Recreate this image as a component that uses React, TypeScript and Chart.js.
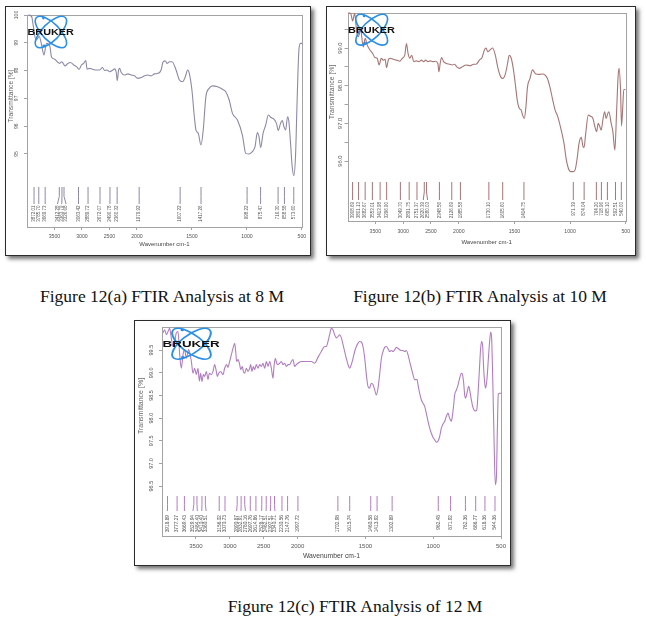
import React, { useEffect, useRef } from 'react';
import { Chart, registerables, LinearScale } from 'chart.js';

// ---------------- data ----------------
// Figure 12(a) – 8 M
const wnA = [3976, 3915, 3885, 3837, 3777, 3734, 3692, 3644, 3583, 3553, 3493, 3451, 3402, 3372, 3342, 3312, 3251, 3209, 3149, 3100, 3052, 3010, 2968, 2931, 2907, 2859, 2811, 2738, 2678, 2629, 2587, 2545, 2497, 2436, 2406, 2376, 2358, 2334, 2315, 2285, 2225, 2164, 2104, 2044, 1992, 1961, 1931, 1901, 1871, 1841, 1810, 1780, 1765, 1744, 1726, 1705, 1681, 1644, 1614, 1584, 1560, 1539, 1524, 1500, 1478, 1463, 1442, 1418, 1397, 1373, 1343, 1312, 1267, 1222, 1192, 1161, 1131, 1086, 1041, 1010, 980, 950, 926, 905, 890, 875, 853, 829, 805, 784, 754, 730, 715, 694, 678, 663, 648, 630, 618, 603, 588, 573, 558, 543, 527, 512, 497];
const tA = [100.0, 99.94, 99.6, 99.1, 99.22, 98.92, 98.56, 98.98, 98.86, 98.48, 98.41, 98.32, 98.26, 98.32, 98.26, 98.17, 98.26, 98.29, 98.2, 98.14, 98.05, 98.2, 98.26, 98.36, 98.05, 98.08, 98.05, 98.02, 98.02, 98.11, 98.0, 98.02, 97.96, 98.02, 98.06, 97.93, 97.64, 98.02, 98.08, 97.93, 97.84, 97.88, 97.84, 97.81, 97.72, 97.75, 97.81, 97.84, 97.81, 97.88, 97.9, 98.02, 98.29, 98.35, 98.26, 98.32, 98.32, 98.02, 97.66, 97.6, 97.78, 98.02, 97.9, 97.3, 96.34, 95.86, 95.74, 95.32, 95.86, 97.06, 97.36, 97.45, 97.42, 97.33, 97.24, 96.94, 96.46, 96.22, 95.68, 95.02, 95.0, 95.08, 95.26, 95.77, 95.62, 95.23, 95.74, 96.04, 96.4, 96.32, 96.25, 96.08, 95.84, 96.1, 96.2, 95.98, 95.86, 96.34, 96.16, 95.38, 94.54, 94.22, 94.9, 96.94, 98.74, 98.98, 98.98];
const peaksA = [3872.01, 3785.70, 3669.73, 3412.28, 3363.79, 3326.68, 3063.42, 2889.72, 2672.07, 2490.78, 2360.32, 1979.92, 1607.22, 1417.26, 998.22, 875.47, 716.30, 658.58, 573.60];
const yTicksA = [95, 96, 97, 98, 99, 100];

// Figure 12(b) – 10 M
const wnB = [3986, 3943, 3907, 3871, 3835, 3806, 3764, 3717, 3682, 3646, 3597, 3549, 3508, 3467, 3431, 3395, 3360, 3324, 3299, 3263, 3227, 3180, 3120, 3060, 3013, 2971, 2941, 2912, 2882, 2846, 2810, 2762, 2715, 2673, 2631, 2596, 2555, 2512, 2465, 2417, 2376, 2358, 2333, 2309, 2274, 2225, 2166, 2118, 2077, 2036, 1994, 1970, 1934, 1898, 1868, 1845, 1815, 1791, 1770, 1755, 1740, 1719, 1696, 1672, 1651, 1630, 1606, 1582, 1562, 1547, 1529, 1511, 1493, 1475, 1457, 1439, 1427, 1412, 1397, 1383, 1361, 1338, 1323, 1308, 1278, 1249, 1224, 1204, 1182, 1159, 1135, 1111, 1084, 1055, 1034, 1016, 995, 974, 956, 935, 920, 900, 884, 875, 860, 837, 816, 795, 777, 762, 748, 735, 721, 706, 690, 676, 661, 652, 631, 616, 598, 583, 569, 560, 547, 538, 527, 518, 503];
const tB = [99.94, 99.92, 99.72, 99.92, 99.43, 99.3, 99.48, 99.03, 99.26, 99.08, 98.95, 98.86, 98.75, 98.73, 98.55, 98.73, 98.68, 98.7, 98.48, 98.7, 98.73, 98.7, 98.68, 98.65, 98.73, 98.81, 99.12, 98.86, 98.73, 98.81, 98.64, 98.66, 98.64, 98.68, 98.64, 98.68, 98.64, 98.66, 98.64, 98.65, 98.59, 98.37, 98.61, 98.75, 98.64, 98.59, 98.57, 98.55, 98.57, 98.5, 98.46, 98.5, 98.55, 98.53, 98.57, 98.57, 98.68, 98.75, 98.95, 99.0, 98.9, 98.95, 99.0, 98.81, 98.5, 98.28, 98.19, 98.31, 98.59, 98.81, 98.73, 98.46, 98.06, 97.62, 97.4, 97.35, 97.22, 97.13, 97.44, 97.97, 98.19, 98.42, 98.37, 98.31, 98.3, 98.31, 98.28, 98.19, 97.97, 97.66, 97.35, 97.18, 96.87, 96.47, 96.03, 95.81, 95.72, 95.72, 95.76, 96.11, 96.47, 96.63, 96.38, 96.36, 96.73, 97.22, 97.19, 97.13, 96.91, 96.78, 97.0, 96.93, 96.82, 97.09, 97.31, 97.13, 97.27, 97.31, 97.0, 96.78, 96.29, 97.27, 98.24, 98.46, 97.89, 96.93, 97.44, 97.9, 97.9];
const peaksB = [3908.69, 3801.13, 3682.67, 3553.01, 3413.98, 3296.90, 3049.70, 2891.75, 2751.37, 2620.39, 2580.03, 2348.56, 2126.69, 1985.58, 1730.10, 1605.60, 1414.75, 971.39, 874.04, 764.20, 718.96, 665.10, 592.51, 540.00];
const yTicksB = [96, 96.5, 97, 97.5, 98, 98.5, 99, 99.5];

// Figure 12(c) – 12 M
const wnC = [3985, 3961, 3936, 3911, 3887, 3862, 3838, 3813, 3789, 3764, 3739, 3715, 3690, 3666, 3641, 3607, 3567, 3543, 3518, 3494, 3469, 3449, 3430, 3410, 3390, 3371, 3346, 3321, 3302, 3272, 3248, 3223, 3199, 3184, 3164, 3135, 3100, 3076, 3046, 3027, 3002, 2977, 2953, 2928, 2913, 2899, 2879, 2854, 2840, 2815, 2800, 2781, 2756, 2731, 2707, 2692, 2673, 2653, 2633, 2609, 2584, 2559, 2535, 2510, 2486, 2461, 2436, 2412, 2387, 2363, 2348, 2328, 2309, 2289, 2264, 2240, 2215, 2191, 2166, 2141, 2117, 2092, 2068, 2043, 2018, 1997, 1972, 1948, 1923, 1899, 1874, 1850, 1825, 1800, 1788, 1776, 1764, 1751, 1739, 1727, 1714, 1702, 1690, 1677, 1665, 1653, 1641, 1628, 1616, 1604, 1591, 1579, 1567, 1555, 1542, 1530, 1518, 1505, 1493, 1481, 1469, 1456, 1444, 1432, 1419, 1407, 1395, 1382, 1370, 1358, 1346, 1333, 1321, 1309, 1296, 1284, 1272, 1260, 1247, 1235, 1223, 1210, 1198, 1186, 1174, 1161, 1149, 1137, 1129, 1119, 1112, 1100, 1087, 1075, 1063, 1051, 1038, 1026, 1014, 1001, 989, 977, 965, 952, 940, 928, 915, 903, 891, 879, 866, 859, 849, 842, 829, 817, 805, 792, 785, 775, 768, 761, 751, 738, 729, 719, 709, 699, 689, 679, 670, 660, 650, 643, 635, 628, 620, 613, 603, 593, 584, 576, 569, 561, 552, 542, 534, 527, 520, 510, 497];
const tC = [99.88, 99.95, 99.84, 99.91, 99.98, 99.76, 99.58, 99.69, 99.88, 99.91, 99.4, 99.1, 99.4, 99.51, 99.32, 99.51, 99.25, 98.99, 99.1, 98.96, 99.1, 98.82, 98.99, 98.81, 98.96, 98.92, 99.03, 98.85, 98.99, 98.96, 99.03, 99.18, 99.03, 98.92, 98.99, 99.03, 98.96, 99.1, 99.18, 99.12, 99.25, 99.4, 99.54, 99.65, 99.47, 99.25, 99.29, 99.18, 99.07, 99.14, 99.03, 98.99, 99.1, 99.03, 99.1, 99.18, 99.03, 99.14, 99.07, 99.18, 99.1, 99.18, 99.14, 99.21, 99.1, 99.25, 99.14, 99.25, 99.1, 98.88, 99.14, 99.32, 99.21, 99.18, 99.21, 99.25, 99.18, 99.21, 99.14, 99.18, 99.18, 99.25, 99.29, 99.14, 99.18, 99.21, 99.25, 99.25, 99.25, 99.25, 99.21, 99.34, 99.47, 99.58, 99.58, 99.69, 99.84, 99.98, 99.95, 99.84, 99.77, 99.8, 99.84, 99.77, 99.62, 99.47, 99.32, 99.18, 99.1, 99.18, 99.32, 99.47, 99.58, 99.65, 99.69, 99.68, 99.58, 99.32, 98.96, 98.7, 98.66, 98.77, 98.74, 98.63, 98.51, 98.66, 98.96, 99.32, 99.47, 99.56, 99.58, 99.53, 99.47, 99.49, 99.47, 99.51, 99.56, 99.54, 99.51, 99.49, 99.49, 99.47, 99.49, 99.4, 99.25, 99.1, 98.96, 98.85, 98.85, 98.85, 98.74, 98.55, 98.4, 98.33, 98.26, 98.11, 97.93, 97.78, 97.67, 97.57, 97.52, 97.47, 97.49, 97.6, 97.78, 97.87, 97.93, 98.04, 98.11, 98.0, 97.93, 98.04, 98.29, 98.51, 98.62, 98.73, 98.88, 98.99, 98.97, 98.77, 98.51, 98.44, 98.55, 98.7, 98.59, 98.41, 98.26, 98.18, 98.16, 98.18, 98.51, 99.03, 99.54, 99.69, 99.58, 99.1, 98.77, 98.66, 98.88, 99.32, 99.69, 99.9, 99.76, 98.88, 97.63, 96.53, 96.68, 97.71, 98.53, 98.55, 98.55];
const peaksC = [3918.89, 3777.27, 3669.43, 3529.94, 3484.40, 3410.40, 3360.51, 3156.02, 3070.73, 2890.87, 2832.91, 2780.16, 2697.76, 2614.86, 2528.17, 2462.51, 2397.51, 2340.71, 2230.56, 2147.76, 1997.72, 1702.98, 1615.74, 1460.58, 1413.92, 1302.89, 962.48, 871.92, 762.36, 686.77, 618.36, 544.36];
const yTicksC = [96.5, 97, 97.5, 98, 98.5, 99, 99.5];

const xTickValues = [3500, 3000, 2500, 2000, 1500, 1000, 500];
const captionA = 'Figure 12(a) FTIR Analysis at 8 M';
const captionB = 'Figure 12(b) FTIR Analysis at 10 M';
const captionC = 'Figure 12(c) FTIR Analysis of 12 M';

// ---------------- scale with OPUS-style half scale above 2000 cm-1 ----------------
const BREAK = 2000;
const compress = (v: number) => (v > BREAK ? BREAK + (v - BREAK) / 2 : v);
const expand = (u: number) => (u > BREAK ? BREAK + (u - BREAK) * 2 : u);

class FtirScale extends LinearScale {
  static id = 'ftir';
  static defaults = LinearScale.defaults;
  configure() {
    super.configure();
    const a = compress((this as any).min);
    const b = compress((this as any).max);
    (this as any)._startValue = a;
    (this as any)._endValue = b;
    (this as any)._valueRange = b - a;
  }
  getPixelForValue(value: any) {
    if (value === null || value === undefined || Number.isNaN(value)) return NaN;
    const s = this as any;
    return s.getPixelForDecimal((compress(value) - s._startValue) / s._valueRange);
  }
  getValueForPixel(pixel: number) {
    const s = this as any;
    return expand(s._startValue + s.getDecimalForPixel(pixel) * s._valueRange);
  }
}

Chart.register(...registerables, FtirScale as any);

const SANS = '"Liberation Sans", Arial, sans-serif';
const FRAME = '#a3a3a3';

const drawLogo = (ctx: CanvasRenderingContext2D, a: any) => {
  const sx = a.width / 276;
  const sy = a.height / 212;
  ctx.save();
  ctx.translate(a.left, a.top);
  ctx.scale(sx, sy);
  const cx = 24, cy = 17;
  ctx.strokeStyle = '#2a8fe6';
  ctx.lineWidth = 1.6;
  [Math.PI / 4, -Math.PI / 4].forEach((ang) => {
    ctx.beginPath();
    ctx.ellipse(cx, cy, 20.5, 8.6, ang, 0, Math.PI * 2);
    ctx.stroke();
  });
  ctx.fillStyle = '#2a8fe6';
  [[-7.5, -14], [-7, 13.8]].forEach(([dx, dy]) => {
    ctx.beginPath();
    ctx.arc(cx + dx, cy + dy, 1.4, 0, Math.PI * 2);
    ctx.fill();
  });
  ctx.font = `bold 9.5px ${SANS}`;
  const m = ctx.measureText('BRUKER').width;
  ctx.translate(0.5, 17.3);
  ctx.scale(46.5 / m, 1);
  ctx.fillStyle = '#111';
  ctx.textBaseline = 'middle';
  ctx.textAlign = 'left';
  ctx.fillText('BRUKER', 0, 0);
  ctx.restore();
};

const panels = [
  {
    key: 'a', wn: wnA, t: tA, peaks: peaksA, yTicks: yTicksA, yMin: 92.37, yMax: 100,
    yFmt: (v: number) => String(v),
    color: '#8a8aa8',
    box: { left: 5, top: 6, w: 306, h: 250 },
    pad: { top: 8, right: 7 }, yWidth: 21, xHeight: 28,
    xTickFont: 5.2, xTickPad: 3.8, yTickFont: 5, yTickPad: 2.8,
    xTitleFont: 6, xTitlePad: 7.4,
    yTitle: { dx: -16, dy: 81, size: 6.6 },
    peak: { lineTop: 40, lineBottom: 23, labelTop: 21.5, font: 4.5, gap: 4.3 },
  },
  {
    key: 'b', wn: wnB, t: tB, peaks: peaksB, yTicks: yTicksB, yMin: 94.41, yMax: 99.93,
    yFmt: (v: number) => (Number.isInteger(v) ? v.toFixed(1) : ''),
    color: '#a87474',
    box: { left: 326, top: 6, w: 310, h: 250 },
    pad: { top: 6, right: 8 }, yWidth: 20.5, xHeight: 34,
    xTickFont: 5.2, xTickPad: 4.9, yTickFont: 5.8, yTickPad: -1.1,
    xTitleFont: 6, xTitlePad: 9.4,
    yTitle: { dx: -15.8, dy: 79, size: 6.8 },
    peak: { lineTop: 39, lineBottom: 21, labelTop: 19, font: 4.5, gap: 4.3 },
  },
  {
    key: 'c', wn: wnC, t: tC, peaks: peaksC, yTicks: yTicksC, yMin: 95.4, yMax: 100.01,
    yFmt: (v: number) => v.toFixed(1),
    color: '#b27cc2',
    box: { left: 134, top: 320, w: 377, h: 246 },
    pad: { top: 6, right: 9 }, yWidth: 27, xHeight: 29,
    xTickFont: 6, xTickPad: 3.4, yTickFont: 5.5, yTickPad: 2.3,
    xTitleFont: 6.8, xTitlePad: 4.6,
    yTitle: { dx: -20.7, dy: 79, size: 7 },
    peak: { lineTop: 40, lineBottom: 25, labelTop: 21, font: 4.8, gap: 4.4 },
  },
];

const buildConfig = (cfg: any) => {
  const framePlugin = {
    id: 'frame',
    beforeDatasetsDraw(chart: any) {
      const { ctx, chartArea: a } = chart;
      ctx.save();
      ctx.strokeStyle = FRAME;
      ctx.lineWidth = 1;
      ctx.strokeRect(Math.round(a.left) + 0.5, Math.round(a.top) + 0.5, Math.round(a.width), Math.round(a.height));
      ctx.restore();
    },
  };
  const extrasPlugin = {
    id: 'extras',
    afterDatasetsDraw(chart: any) {
      const { ctx, chartArea: a } = chart;
      const xs = chart.scales.x;
      const pk = cfg.peak;
      // peak markers
      const items = cfg.peaks.map((p: number) => ({ p, px: xs.getPixelForValue(p) })).sort((u: any, v: any) => u.px - v.px);
      const pos = items.map((i: any) => i.px);
      for (let it = 0; it < 300; it++) {
        let moved = false;
        for (let i = 0; i < pos.length - 1; i++) {
          const d = pos[i + 1] - pos[i];
          if (d < pk.gap - 0.01) {
            const m = (pk.gap - d) / 2;
            pos[i] -= m;
            pos[i + 1] += m;
            moved = true;
          }
        }
        if (!moved) break;
      }
      const top = a.bottom - pk.lineTop;
      const bottom = a.bottom - pk.lineBottom;
      const bend = top + (bottom - top) * 0.55;
      ctx.save();
      ctx.strokeStyle = cfg.color;
      ctx.lineWidth = 1;
      items.forEach((it: any, i: number) => {
        ctx.beginPath();
        ctx.moveTo(it.px, top);
        ctx.lineTo(it.px, bend);
        ctx.lineTo(pos[i], bottom);
        ctx.stroke();
      });
      ctx.fillStyle = '#555';
      ctx.font = `${pk.font}px ${SANS}`;
      ctx.textAlign = 'right';
      ctx.textBaseline = 'middle';
      items.forEach((it: any, i: number) => {
        ctx.save();
        ctx.translate(pos[i], a.bottom - pk.labelTop);
        ctx.rotate(-Math.PI / 2);
        ctx.fillText(it.p.toFixed(2), 0, 0);
        ctx.restore();
      });
      // y title
      ctx.fillStyle = '#666';
      ctx.font = `${cfg.yTitle.size}px ${SANS}`;
      ctx.textAlign = 'center';
      ctx.save();
      ctx.translate(a.left + cfg.yTitle.dx, a.top + cfg.yTitle.dy);
      ctx.rotate(-Math.PI / 2);
      ctx.fillText('Transmittance [%]', 0, 0);
      ctx.restore();
      ctx.restore();
      drawLogo(ctx, a);
    },
  };
  return {
    type: 'line',
    data: {
      datasets: [
        {
          data: cfg.wn.map((w: number, i: number) => ({ x: w, y: cfg.t[i] })),
          borderColor: cfg.color,
          borderWidth: 1.1,
          pointRadius: 0,
          fill: false,
          cubicInterpolationMode: 'monotone',
          clip: 3,
        },
      ],
    },
    options: {
      animation: false,
      responsive: false,
      maintainAspectRatio: false,
      devicePixelRatio: 1,
      events: [],
      layout: { padding: { top: cfg.pad.top, right: cfg.pad.right, left: 0, bottom: 0 } },
      plugins: { legend: { display: false }, tooltip: { enabled: false }, title: { display: false } },
      scales: {
        x: {
          type: 'ftir',
          min: 500,
          max: 4000,
          reverse: true,
          afterBuildTicks: (s: any) => {
            s.ticks = xTickValues.map((v) => ({ value: v }));
          },
          afterFit: (s: any) => {
            s.height = cfg.xHeight;
          },
          ticks: {
            autoSkip: false,
            maxRotation: 0,
            minRotation: 0,
            padding: cfg.xTickPad,
            color: '#555',
            font: { family: SANS, size: cfg.xTickFont },
            callback: (v: any) => String(v),
          },
          grid: { display: true, drawOnChartArea: false, drawTicks: true, tickLength: 3, color: FRAME, lineWidth: 1 },
          border: { display: false },
          title: {
            display: true,
            text: 'Wavenumber cm-1',
            color: '#444',
            font: { family: SANS, size: cfg.xTitleFont },
            padding: { top: 0, bottom: cfg.xTitlePad },
          },
        },
        y: {
          type: 'linear',
          min: cfg.yMin,
          max: cfg.yMax,
          afterBuildTicks: (s: any) => {
            s.ticks = cfg.yTicks.map((v: number) => ({ value: v }));
          },
          afterFit: (s: any) => {
            s.width = cfg.yWidth;
          },
          ticks: {
            minRotation: 90,
            maxRotation: 90,
            crossAlign: 'center',
            padding: cfg.yTickPad,
            color: '#555',
            font: { family: SANS, size: cfg.yTickFont },
            callback: (v: any) => cfg.yFmt(v),
          },
          grid: { display: true, drawOnChartArea: false, drawTicks: true, tickLength: 3, color: FRAME, lineWidth: 1 },
          border: { display: false },
          title: { display: false },
        },
      },
    },
    plugins: [framePlugin, extrasPlugin],
  };
};

function Panel({ cfg }: { cfg: any }) {
  const ref = useRef<HTMLCanvasElement | null>(null);
  useEffect(() => {
    if (!ref.current) return;
    const chart = new Chart(ref.current, buildConfig(cfg) as any);
    return () => chart.destroy();
  }, [cfg]);
  const { left, top, w, h } = cfg.box;
  return (
    <div
      style={{
        position: 'absolute',
        left,
        top,
        width: w,
        height: h,
        boxSizing: 'border-box',
        border: '1px solid #2b2b2b',
        background: '#fff',
        boxShadow: '3px 3px 4px rgba(0,0,0,0.55)',
      }}
    >
      <canvas ref={ref} width={w - 2} height={h - 2} style={{ display: 'block', width: w - 2, height: h - 2 }} />
    </div>
  );
}

const captionStyle = (cx: number, cy: number): React.CSSProperties => ({
  position: 'absolute',
  left: cx - 200,
  top: cy - 11,
  width: 400,
  height: 22,
  lineHeight: '22px',
  textAlign: 'center',
  fontFamily: '"Liberation Serif", "Times New Roman", serif',
  fontSize: 17.5,
  color: '#111',
  whiteSpace: 'nowrap',
});

export default function App() {
  return (
    <div style={{ position: 'absolute', left: 0, top: 0, width: 646, height: 621, background: '#fff', overflow: 'hidden' }}>
      {panels.map((p) => (
        <Panel key={p.key} cfg={p} />
      ))}
      <div style={captionStyle(162, 296)}>{captionA}</div>
      <div style={captionStyle(480, 296)}>{captionB}</div>
      <div style={captionStyle(355, 606)}>{captionC}</div>
    </div>
  );
}
